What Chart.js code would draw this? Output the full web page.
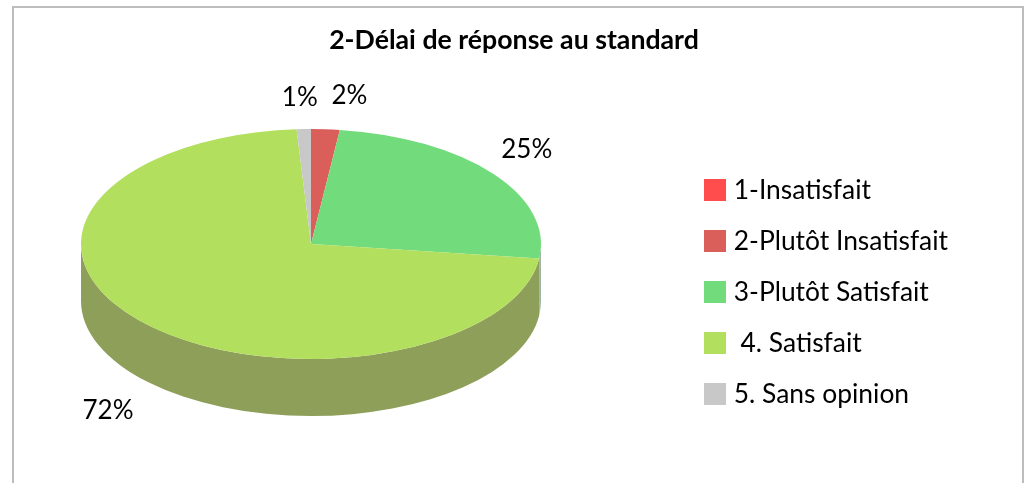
<!DOCTYPE html>
<html>
<head>
<meta charset="utf-8">
<script src="https://cdn.jsdelivr.net/npm/chart.js@4"></script>
<style>
  html, body { margin: 0; padding: 0; background: #fff; overflow: hidden; }
  #frame { position: absolute; left: 12px; top: 6px; width: 1008px; height: 477px;
           border: 2px solid #bdbdbd; border-bottom: none; }
  canvas { position: absolute; left: 0; top: 0; }
</style>
</head>
<body>
<div id="frame"></div>
<canvas id="pie" width="1031" height="483"></canvas>
<script>
const chartTitle = "2-Délai de réponse au standard";
const categories = ["1-Insatisfait", "2-Plutôt Insatisfait", "3-Plutôt Satisfait", " 4. Satisfait", "5. Sans opinion"];
const percents = [0, 2, 25, 72, 1];
const sliceColors = ["#ff4d4d", "#da5f5b", "#72dc7c", "#b3df5e", "#c8c8c8"];
const sideColors = ["#a83a38", "#8f4744", "#9db5a2", "#8e9f5a", "#8d8d8d"];

// where the tilted pie sits on the page
const pieX = 311, pieY = 244, radius = 230, tilt = 0.5, depth = 57;
// nudge of each % label from the rim of its slice
const labelNudge = [null, [24, -34], [34, -24], [0, 0], [-4, -31]];

const tiltedPie = {
  id: "tiltedPie",
  beforeDatasetsDraw(chart) {
    const ctx = chart.ctx;
    const arcs = chart.getDatasetMeta(0).data;
    ctx.save();
    ctx.translate(pieX, pieY);
    ctx.scale(1, tilt);
    // side wall, only the front half of the rim can show
    arcs.forEach((arc, i) => {
      const from = Math.max(arc.startAngle, 0);
      const to = Math.min(arc.endAngle, Math.PI);
      if (to <= from) return;
      ctx.fillStyle = sideColors[i];
      ctx.beginPath();
      ctx.arc(0, 0, arc.outerRadius, from, to);
      ctx.arc(0, depth / tilt, arc.outerRadius, to, from, true);
      ctx.closePath();
      ctx.fill();
    });
    ctx.translate(-arcs[0].x, -arcs[0].y);
  },
  afterDatasetsDraw(chart) {
    const ctx = chart.ctx;
    ctx.restore();
    ctx.fillStyle = "#000";
    ctx.font = "26px Lato";
    ctx.textAlign = "center";
    ctx.textBaseline = "middle";
    chart.getDatasetMeta(0).data.forEach((arc, i) => {
      if (!percents[i]) return;
      const mid = (arc.startAngle + arc.endAngle) / 2;
      let x = pieX + Math.cos(mid) * arc.outerRadius;
      let y = pieY + Math.sin(mid) * arc.outerRadius * tilt;
      if (i === 3) { x = 108; y = 411; } // 72% sits under the wall
      else { x += labelNudge[i][0]; y += labelNudge[i][1]; }
      ctx.fillText(percents[i] + "%", x, y);
    });
  }
};

// legend swatch as a canvas, so the text can sit closer than the default gap
function swatchFor(color) {
  const c = document.createElement("canvas");
  c.width = 22;
  c.height = 22;
  const g = c.getContext("2d");
  g.fillStyle = color;
  g.fillRect(0, 0, 22, 22);
  return c;
}

new Chart(document.getElementById("pie"), {
  type: "pie",
  data: {
    labels: categories,
    datasets: [{
      data: percents,
      backgroundColor: sliceColors,
      borderWidth: 0,
      radius: radius,
      clip: false
    }]
  },
  options: {
    responsive: false,
    animation: false,
    layout: { padding: { top: 24, right: 73, bottom: 51, left: 70 } },
    plugins: {
      title: {
        display: true,
        text: chartTitle,
        color: "#000",
        font: { family: "Lato", size: 26.7, weight: "bold" },
        padding: { top: 0, bottom: 10 }
      },
      legend: {
        position: "right",
        align: "end",
        labels: {
          color: "#000",
          font: { family: "Lato", size: 26.4 },
          usePointStyle: true,
          pointStyleWidth: 11,
          boxHeight: 22,
          padding: 24.6,
          generateLabels(chart) {
            return categories.map((name, i) => ({
              text: name,
              fillStyle: sliceColors[i],
              strokeStyle: sliceColors[i],
              lineWidth: 0,
              pointStyle: swatchFor(sliceColors[i]),
              fontColor: "#000",
              index: i
            }));
          }
        }
      },
      tooltip: { enabled: false }
    }
  },
  plugins: [tiltedPie]
});
</script>
</body>
</html>
